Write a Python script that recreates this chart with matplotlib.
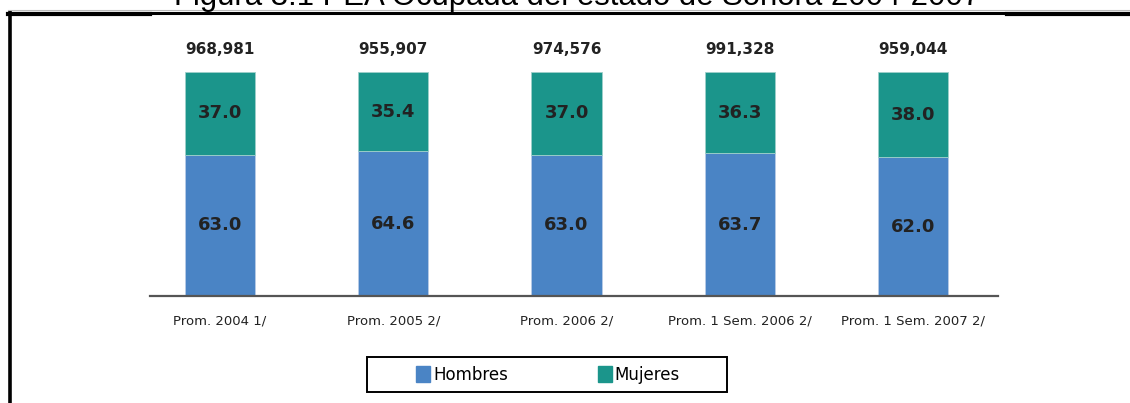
import matplotlib
matplotlib.use('Agg')
from matplotlib import pyplot as plt
from matplotlib.lines import Line2D
import matplotlib.patches as mpatches

# data
periodos = ['Prom. 2004 1/', 'Prom. 2005 2/', 'Prom. 2006 2/',
            'Prom. 1 Sem. 2006 2/', 'Prom. 1 Sem. 2007 2/']
hombres = [63.0, 64.6, 63.0, 63.7, 62.0]
mujeres = [37.0, 35.4, 37.0, 36.3, 38.0]
totales = ['968,981', '955,907', '974,576', '991,328', '959,044']

azul = '#4a84c5'
verde = '#1b958b'

fig = plt.figure(figsize=(11.3, 4.03), dpi=100)
ax = fig.add_axes([150/1130, 1 - 296/403, 848/1130, 224/403])

x = range(len(periodos))
ax.bar(x, hombres, width=0.405, color=azul, edgecolor='#b8cbe6', linewidth=0.6, label='Hombres')
ax.bar(x, mujeres, width=0.405, bottom=hombres, color=verde, edgecolor='#9fd0cb', linewidth=0.6, label='Mujeres')

for i in x:
    ax.text(i, hombres[i] / 2, '%.1f' % hombres[i], ha='center', va='center',
            fontsize=13, fontweight='bold', color='#222222')
    ax.text(i, hombres[i] + mujeres[i] / 2, '%.1f' % mujeres[i], ha='center', va='center',
            fontsize=13, fontweight='bold', color='#222222')
    ax.annotate(totales[i], (i, 100), xytext=(0, 16), textcoords='offset points',
                ha='center', va='center', fontsize=11, fontweight='bold', color='#222222')

ax.set_xlim(-0.404, 4.49)
ax.set_ylim(0, 100)
ax.set_xticks(list(x))
ax.set_xticklabels(periodos, fontsize=9.5, color='#222222')
ax.tick_params(axis='x', length=0, pad=13)
ax.set_yticks([])
for s in ['top', 'left', 'right']:
    ax.spines[s].set_visible(False)
ax.spines['bottom'].set_color('#555555')
ax.spines['bottom'].set_linewidth(1.6)

# legend (frame drawn by hand)
h1 = mpatches.Patch(color=azul, label='Hombres')
h2 = mpatches.Patch(color=verde, label='Mujeres')
leg = fig.legend(handles=[h1, h2], ncol=2, loc='center', bbox_to_anchor=(548/1130, 1 - 375/403),
                 fontsize=12, frameon=False, handlelength=0.85, handleheight=1.1,
                 handletextpad=0.15, columnspacing=5.4)
fig.add_artist(mpatches.Rectangle((367/1130, 1 - 392/403), 360/1130, 35/403,
                                  transform=fig.transFigure, fill=False,
                                  edgecolor='black', linewidth=1.4))

# marco y titulo recortado
fig.add_artist(Line2D([9.5/1130, 9.5/1130], [0, 1 - 12/403], color='black', linewidth=2.6))
fig.add_artist(Line2D([8/1130, 1], [1 - 13/403, 1 - 13/403], color='black', linewidth=2.2))
fig.add_artist(Line2D([8/1130, 150/1130], [1 - 13.5/403, 1 - 13.5/403], color='black', linewidth=3))
fig.add_artist(Line2D([1007/1130, 1], [1 - 13.5/403, 1 - 13.5/403], color='black', linewidth=3))
fig.add_artist(Line2D([8/1130, 1], [1 - 10/403, 1 - 10/403], color='#bbbbbb', linewidth=0.8))
fig.text(577/1130, 1 - 5/403, 'Figura 3.1 PEA Ocupada del estado de Sonora 2004-2007',
         ha='center', va='baseline', fontsize=22.4, family='Liberation Sans', color='black')

plt.savefig('out.png', dpi=100)
